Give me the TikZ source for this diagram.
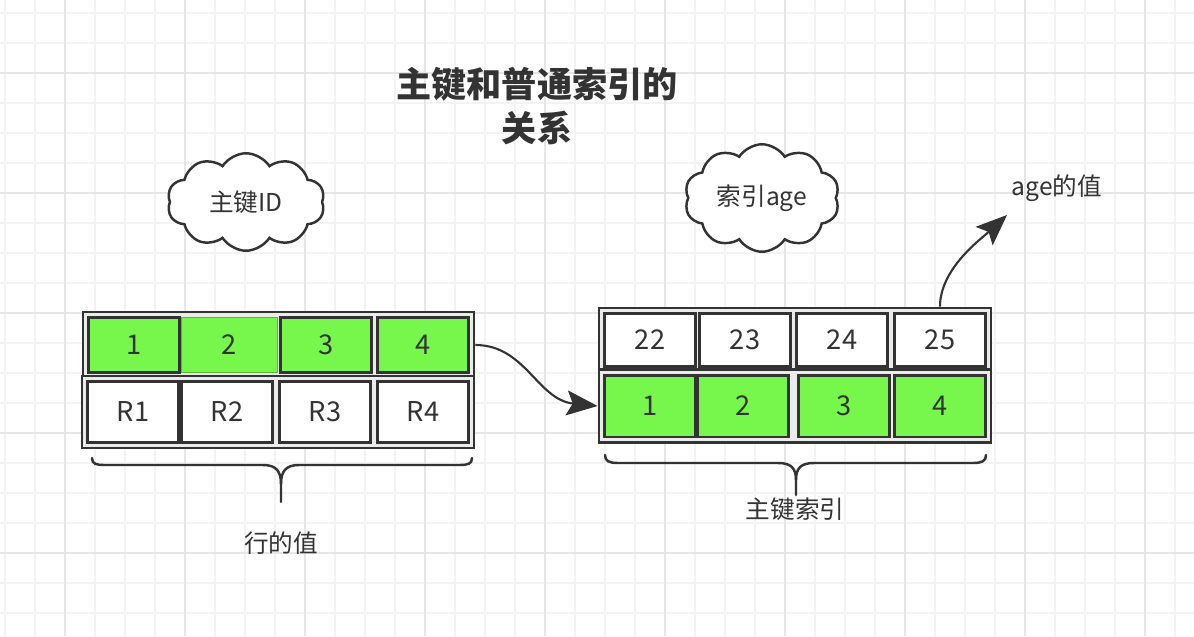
\documentclass[tikz,border=0pt]{standalone}
\usepackage{fontspec}
\setmainfont{Noto Sans CJK SC}
\usetikzlibrary{arrows.meta,positioning,shapes.symbols,fit,backgrounds}
\definecolor{inkgray}{HTML}{333333}
\definecolor{keygreen}{HTML}{77F64B}
\definecolor{gridminor}{HTML}{F3F3F3}
\definecolor{gridmajor}{HTML}{E6E6E6}

\begin{document}
\begin{tikzpicture}[
  x=0.02cm, y=-0.02cm,
  font=\fontsize{14}{16}\selectfont,
  text=inkgray,
  >={Stealth[length=0.62cm,width=0.5cm,inset=0.12cm]},
  cell/.style={rectangle,draw=inkgray,line width=1.7pt,fill=white,
               minimum width=1.82cm,inner sep=0pt,font=\fontsize{15.5}{17}\selectfont},
  keycell/.style={cell,fill=keygreen},
  softcell/.style={cell,fill=keygreen,draw=keygreen!75!black,line width=0.5pt,
                   minimum width=1.92cm},
  rowframe/.style={rectangle,draw=inkgray,line width=1.6pt,fill=black!8,inner sep=0.08cm},
  bubble/.style={cloud,cloud puffs=10,cloud puff arc=115,aspect=1.6,draw=inkgray,
                 line width=1.4pt,fill=white,inner sep=0pt},
  title/.style={font=\fontsize{20}{25.5}\selectfont\bfseries,align=center},
  flow/.style={->,line width=1.2pt,draw=inkgray},
  curly/.style={draw=inkgray,line width=1.4pt,line cap=round},
  gridline/.style={draw=gridminor,line width=0.9pt},
  gridbold/.style={draw=gridmajor,line width=0.9pt},
]
\useasboundingbox (0,0) rectangle (1194,636);

%% ------------------------------------------------------------ paper grid
\begin{scope}[on background layer]
  \fill[white] (0,0) rectangle (1194,636);
  \foreach \gx in {5,35,...,1194} \draw[gridline] (\gx,0) -- (\gx,636);
  \foreach \gy in {13,43,...,636} \draw[gridline] (0,\gy) -- (1194,\gy);
  \foreach \gx in {65,185,...,1194} \draw[gridbold] (\gx,0) -- (\gx,636);
  \foreach \gy in {73,193,...,636} \draw[gridbold] (0,\gy) -- (1194,\gy);
\end{scope}

%% ----------------------------------------------------------------- title
\node[title] (ttl) at (537,106) {主键和普通索引的\\关系};

%% ---------------------------------------------------------------- clouds
\node[bubble,minimum width=3.15cm,minimum height=1.95cm] (pkcloud) at (246,202) {主键ID};
\node[bubble,minimum width=3.1cm,minimum height=2.15cm] (idxcloud) at (762,198) {索引age};

%% ------------------------------------------------------ left: key -> row
\foreach \cx/\ct/\cs [count=\ci] in {134/1/keycell,229/2/softcell,326/3/keycell,423/4/keycell}
  \node[\cs,minimum height=1.1cm] (lk\ci) at (\cx,345) {\ct};
\foreach \cx [count=\ci] in {133,227,325,423}
  \node[cell,minimum height=1.22cm] (lr\ci) at (\cx,412) {R\ci};

%% ------------------------------------------------- right: age -> key
\foreach \cx/\ct [count=\ci] in {650/22,745/23,842/24,940/25}
  \node[cell,minimum height=1.06cm] (rk\ci) at (\cx,340) {\ct};
\foreach \cx [count=\ci] in {650,743,844,940}
  \node[keycell,minimum height=1.24cm] (rb\ci) at (\cx,406) {\ci};

\begin{scope}[on background layer]
  \node[rowframe,fit=(lk1)(lk4)] (ltop) {};
  \node[rowframe,fit=(lr1)(lr4)] (lbot) {};
  \node[rowframe,fit=(rk1)(rk4)] (rtop) {};
  \node[rowframe,fit=(rb1)(rb4)] (rbot) {};
\end{scope}

%% ---------------------------------------------------------------- braces
\draw[curly] (92,458) .. controls (92,464) and (96,465) .. (105,465) -- (263,465)
  .. controls (276,465) and (281,471) .. (281,484) -- (281,502);
\draw[curly] (281,484) .. controls (281,471) and (286,465) .. (299,465) -- (459,465)
  .. controls (468,465) and (472,464) .. (472,458);
\draw[curly] (605,455) .. controls (605,461) and (609,463) .. (618,463) -- (778,463)
  .. controls (791,463) and (796,468) .. (796,480) -- (796,495);
\draw[curly] (796,480) .. controls (796,468) and (801,463) .. (814,463) -- (973,463)
  .. controls (982,463) and (986,461) .. (986,455);
\node (rowval) at (281,543) {行的值};
\node (pkidx) at (795,509) {主键索引};

%% ---------------------------------------------------------------- arrows
\node (agev) at (1057,188) {age的值};
\coordinate (agetip) at (1007,215);
\draw[flow] (ltop.east) .. controls +(50,0) and +(-60,-6) .. (rbot.west);
\draw[flow] (rk4.north |- rtop.north) .. controls +(0,-38) and +(-26,24) .. (agetip);

\end{tikzpicture}
\end{document}
